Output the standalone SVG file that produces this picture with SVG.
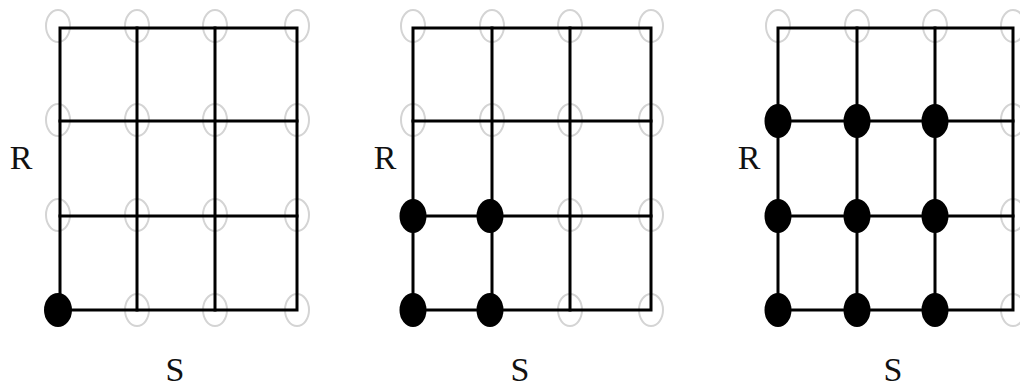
<svg xmlns="http://www.w3.org/2000/svg" width="1020" height="387" viewBox="0 0 1020 387">
<defs>
<style>
.grid{stroke:#000;stroke-width:3;fill:none;stroke-linecap:square}
.open{fill:none;stroke:#d4d4d4;stroke-width:2}
.dot{fill:#000}
.lbl{font-family:"Liberation Serif","Times New Roman",serif;font-size:34px;fill:#111;text-anchor:middle}
</style>
</defs>
<rect width="1020" height="387" fill="#fff"/>
<!-- Panel 1 -->
<g id="panel1">
<g class="open">
<ellipse cx="58" cy="26" rx="12" ry="16"/><ellipse cx="137" cy="26" rx="12" ry="16"/><ellipse cx="215" cy="26" rx="12" ry="16"/><ellipse cx="297" cy="26" rx="12" ry="16"/>
<ellipse cx="58" cy="120" rx="12" ry="16"/><ellipse cx="137" cy="120" rx="12" ry="16"/><ellipse cx="215" cy="120" rx="12" ry="16"/><ellipse cx="297" cy="120" rx="12" ry="16"/>
<ellipse cx="58" cy="215" rx="12" ry="16"/><ellipse cx="137" cy="215" rx="12" ry="16"/><ellipse cx="215" cy="215" rx="12" ry="16"/><ellipse cx="297" cy="215" rx="12" ry="16"/>
<ellipse cx="137" cy="310" rx="12" ry="16"/><ellipse cx="215" cy="310" rx="12" ry="16"/><ellipse cx="297" cy="310" rx="12" ry="16"/>
</g>
<g class="grid">
<rect x="60" y="28" width="237" height="282"/>
<line x1="137" y1="28" x2="137" y2="310"/><line x1="215" y1="28" x2="215" y2="310"/>
<line x1="60" y1="121" x2="297" y2="121"/><line x1="60" y1="216" x2="297" y2="216"/>
</g>
<ellipse class="dot" cx="58" cy="310" rx="14" ry="17"/>
<text class="lbl" x="21" y="169">R</text>
<text class="lbl" x="175" y="381">S</text>
</g>
<!-- Panel 2 -->
<g id="panel2">
<g class="open">
<ellipse cx="413" cy="26" rx="12" ry="16"/><ellipse cx="492" cy="26" rx="12" ry="16"/><ellipse cx="570" cy="26" rx="12" ry="16"/><ellipse cx="651" cy="26" rx="12" ry="16"/>
<ellipse cx="413" cy="120" rx="12" ry="16"/><ellipse cx="492" cy="120" rx="12" ry="16"/><ellipse cx="570" cy="120" rx="12" ry="16"/><ellipse cx="651" cy="120" rx="12" ry="16"/>
<ellipse cx="570" cy="215" rx="12" ry="16"/><ellipse cx="651" cy="215" rx="12" ry="16"/>
<ellipse cx="570" cy="310" rx="12" ry="16"/><ellipse cx="651" cy="310" rx="12" ry="16"/>
</g>
<g class="grid">
<rect x="413" y="28" width="238" height="282"/>
<line x1="492" y1="28" x2="492" y2="310"/><line x1="570" y1="28" x2="570" y2="310"/>
<line x1="413" y1="121" x2="651" y2="121"/><line x1="413" y1="216" x2="651" y2="216"/>
</g>
<ellipse class="dot" cx="413" cy="216" rx="13.5" ry="17"/><ellipse class="dot" cx="490" cy="216" rx="13.5" ry="17"/>
<ellipse class="dot" cx="413" cy="310" rx="13.5" ry="17"/><ellipse class="dot" cx="490" cy="310" rx="13.5" ry="17"/>
<text class="lbl" x="385" y="169">R</text>
<text class="lbl" x="520" y="381">S</text>
</g>
<!-- Panel 3 -->
<g id="panel3">
<g class="open">
<ellipse cx="778" cy="26" rx="12" ry="16"/><ellipse cx="857" cy="26" rx="12" ry="16"/><ellipse cx="935" cy="26" rx="12" ry="16"/><ellipse cx="1013" cy="26" rx="12" ry="16"/>
<ellipse cx="1013" cy="120" rx="12" ry="16"/><ellipse cx="1013" cy="215" rx="12" ry="16"/><ellipse cx="1013" cy="310" rx="12" ry="16"/>
</g>
<g class="grid">
<rect x="778" y="28" width="235" height="282"/>
<line x1="857" y1="28" x2="857" y2="310"/><line x1="935" y1="28" x2="935" y2="310"/>
<line x1="778" y1="121" x2="1013" y2="121"/><line x1="778" y1="216" x2="1013" y2="216"/>
</g>
<ellipse class="dot" cx="778" cy="121" rx="13.5" ry="17"/><ellipse class="dot" cx="857" cy="121" rx="13.5" ry="17"/><ellipse class="dot" cx="935" cy="121" rx="13.5" ry="17"/>
<ellipse class="dot" cx="778" cy="216" rx="13.5" ry="17"/><ellipse class="dot" cx="857" cy="216" rx="13.5" ry="17"/><ellipse class="dot" cx="935" cy="216" rx="13.5" ry="17"/>
<ellipse class="dot" cx="778" cy="310" rx="13.5" ry="17"/><ellipse class="dot" cx="857" cy="310" rx="13.5" ry="17"/><ellipse class="dot" cx="935" cy="310" rx="13.5" ry="17"/>
<text class="lbl" x="749" y="169">R</text>
<text class="lbl" x="893" y="381">S</text>
</g>
</svg>
